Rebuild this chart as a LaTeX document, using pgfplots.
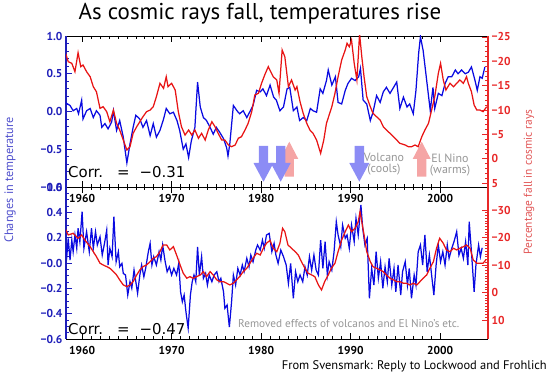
\documentclass[border=0pt]{standalone}
\usepackage{pgfplots}
\pgfplotsset{compat=1.18}
\usepackage{fontspec}
\setmainfont{PT Sans}
\newfontfamily\corrfont{DejaVu Sans}
\definecolor{tblue}{RGB}{10,10,225}
\definecolor{cred}{RGB}{232,20,20}
\definecolor{axblue}{RGB}{30,30,185}
\definecolor{axred}{RGB}{232,40,40}
\definecolor{arrblue}{RGB}{140,140,245}
\definecolor{arrpink}{RGB}{245,165,165}
\definecolor{annogray}{RGB}{150,150,150}
\definecolor{lblblue}{RGB}{80,80,205}
\definecolor{lblred}{RGB}{225,85,85}

\pgfplotstableread{
year T
1958.1 0.12
1958.65 0.08
1959.0 0.01
1959.4 0.04
1959.6 -0.03
1959.95 0.15
1960.1 -0.10
1960.5 0.01
1960.9 0.04
1961.25 -0.08
1961.6 0.01
1962.0 -0.05
1962.2 -0.21
1962.55 -0.16
1962.9 -0.23
1963.3 -0.14
1963.5 0.01
1963.85 -0.25
1964.2 -0.12
1964.6 -0.34
1965.0 -0.68
1965.35 -0.43
1965.7 -0.21
1966.0 -0.05
1966.45 -0.10
1966.8 -0.21
1967.2 -0.12
1967.6 -0.32
1967.95 -0.16
1968.3 -0.34
1968.7 -0.25
1969.1 -0.10
1969.4 0.04
1969.8 -0.03
1970.2 -0.01
1970.6 -0.12
1970.9 -0.25
1971.3 -0.50
1971.6 -0.43
1971.9 -0.61
1972.2 -0.39
1972.6 -0.21
1972.9 0.39
1973.2 0.06
1973.55 -0.08
1973.9 -0.12
1974.3 -0.21
1974.65 -0.30
1975.0 -0.21
1975.4 -0.28
1975.8 -0.36
1976.15 -0.48
1976.3 -0.59
1976.5 -0.43
1976.9 0.08
1977.3 0.01
1977.6 -0.03
1978.0 0.01
1978.4 -0.08
1978.8 0.01
1979.1 0.08
1979.5 0.28
1979.9 0.26
1980.2 0.30
1980.6 0.21
1981.0 0.35
1981.4 0.19
1981.7 0.15
1982.1 0.01
1982.5 0.06
1982.9 0.30
1983.2 0.32
1983.6 0.01
1984.0 0.06
1984.3 -0.12
1984.7 -0.08
1985.1 -0.12
1985.5 0.04
1985.8 0.01
1986.2 -0.01
1986.6 0.30
1986.9 0.24
1987.3 0.41
1987.5 0.55
1987.9 0.35
1988.3 0.46
1988.6 0.12
1989.0 0.10
1989.4 0.28
1989.7 0.37
1990.1 0.44
1990.5 0.41
1990.9 0.46
1991.1 0.57
1991.4 0.15
1991.8 0.10
1992.2 -0.12
1992.5 -0.01
1992.9 0.21
1993.3 0.12
1993.65 0.26
1994.0 0.32
1994.4 0.24
1994.8 0.32
1995.15 0.39
1995.5 0.04
1995.9 0.19
1996.3 0.06
1996.6 0.10
1997.0 -0.03
1997.3 0.28
1997.6 0.77
1997.8 0.99
1998.1 0.81
1998.5 0.41
1998.9 0.01
1999.2 0.32
1999.4 0.04
1999.8 0.24
2000.2 0.21
2000.55 0.37
2000.9 0.46
2001.3 0.46
2001.7 0.55
2002.0 0.50
2002.4 0.55
2002.8 0.50
2003.15 0.52
2003.5 0.59
2003.9 0.41
2004.15 0.28
2004.45 0.46
2004.7 0.44
2005.0 0.59
}\toptemp

\pgfplotstableread{
year C
1958.1 -21.98
1958.45 -19.92
1958.85 -19.59
1959.2 -17.87
1959.55 -21.77
1959.85 -18.9
1960.1 -19.25
1960.5 -17.87
1960.9 -16.84
1961.25 -14.79
1961.6 -13.76
1962.0 -10.35
1962.35 -10.68
1962.75 -9.66
1963.1 -7.6
1963.5 -10.0
1963.85 -7.27
1964.2 -5.9
1964.6 -3.84
1965.0 -1.79
1965.35 -2.47
1965.7 -5.22
1966.1 -6.58
1966.45 -7.6
1966.8 -8.63
1967.2 -9.66
1967.6 -10.0
1967.95 -10.68
1968.3 -12.74
1968.7 -15.49
1969.1 -14.46
1969.4 -16.84
1969.6 -14.79
1970.0 -15.49
1970.4 -14.11
1970.75 -9.66
1971.1 -6.58
1971.5 -4.87
1971.9 -5.9
1972.25 -4.87
1972.6 -5.9
1973.0 -4.2
1973.35 -5.22
1973.75 -3.84
1974.1 -5.9
1974.5 -7.6
1974.85 -6.58
1975.2 -5.22
1975.6 -3.84
1975.95 -3.84
1976.35 -2.82
1976.7 -2.47
1977.1 -2.82
1977.45 -4.2
1977.8 -4.52
1978.2 -5.9
1978.55 -7.27
1978.95 -9.66
1979.3 -13.09
1979.7 -13.43
1980.05 -15.49
1980.4 -17.19
1980.8 -18.9
1981.35 -16.84
1981.75 -16.17
1982.0 -13.43
1982.35 -22.33
1982.65 -20.95
1983.05 -14.79
1983.4 -16.17
1983.8 -14.11
1984.0 -14.79
1984.35 -11.71
1984.7 -9.33
1985.1 -7.27
1985.45 -5.9
1985.8 -5.22
1986.2 -3.84
1986.65 -1.11
1987.0 -3.84
1987.3 -7.27
1987.9 -10.68
1988.25 -13.43
1988.6 -16.84
1989.0 -20.27
1989.4 -22.33
1989.6 -23.7
1989.85 -23.0
1990.1 -24.38
1990.4 -19.59
1990.7 -16.17
1991.0 -25.6
1991.25 -20.95
1991.5 -16.84
1991.8 -12.74
1992.2 -10.68
1992.5 -9.33
1992.9 -8.63
1993.3 -7.95
1993.65 -6.58
1994.0 -5.9
1994.4 -5.22
1994.8 -4.52
1995.15 -3.84
1995.5 -3.17
1996.1 -2.82
1996.45 -2.47
1996.8 -2.47
1997.2 -2.82
1997.55 -2.47
1997.95 -4.52
1998.3 -5.9
1998.7 -7.27
1999.05 -10.0
1999.4 -12.74
1999.8 -17.54
2000.05 -19.59
2000.35 -16.17
2000.65 -14.11
2001.1 -15.49
2001.5 -14.79
2001.85 -15.49
2002.2 -16.17
2002.6 -15.49
2002.95 -16.84
2003.15 -15.49
2003.5 -13.76
2003.8 -11.03
2004.1 -10.0
2004.45 -10.0
2004.8 -9.66
2005.2 -10.68
}\topcr

\pgfplotstableread{
year T
1958.1 0.155
1958.3 0.063
1958.45 0.195
1958.65 0.023
1958.85 0.181
1959.0 0.089
1959.2 0.221
1959.4 0.116
1959.55 0.274
1959.75 0.168
1960.0 0.405
1960.2 0.116
1960.5 0.247
1960.8 0.089
1961.05 0.274
1961.25 0.116
1961.5 0.247
1961.7 0.142
1962.0 0.207
1962.25 0.063
1962.5 0.155
1962.75 0.260
1962.9 -0.016
1963.1 0.116
1963.35 0.050
1963.55 0.365
1963.8 0.010
1964.05 0.089
1964.2 -0.030
1964.45 -0.003
1964.6 -0.082
1964.85 -0.095
1965.1 -0.253
1965.35 -0.148
1965.55 -0.200
1965.8 -0.056
1966.0 -0.148
1966.2 -0.240
1966.45 -0.095
1966.65 -0.016
1966.9 -0.109
1967.1 -0.042
1967.4 0.089
1967.6 0.155
1967.8 -0.016
1968.0 0.050
1968.3 -0.016
1968.6 0.089
1968.8 0.023
1969.0 0.142
1969.25 0.023
1969.5 -0.069
1969.75 -0.030
1970.0 -0.095
1970.25 -0.042
1970.55 -0.095
1970.8 -0.003
1971.0 -0.227
1971.2 -0.306
1971.4 -0.253
1971.6 -0.385
1971.85 -0.514
1972.1 -0.253
1972.3 -0.148
1972.5 -0.095
1972.7 -0.148
1972.9 0.128
1973.1 -0.095
1973.35 0.050
1973.55 -0.121
1973.8 -0.082
1974.0 -0.174
1974.2 -0.095
1974.5 -0.148
1974.75 -0.095
1975.05 -0.069
1975.3 -0.148
1975.5 -0.121
1975.8 -0.227
1975.95 -0.358
1976.2 -0.332
1976.45 -0.506
1976.7 -0.306
1976.9 -0.095
1977.15 -0.174
1977.4 -0.042
1977.65 -0.095
1977.9 -0.016
1978.1 -0.069
1978.4 0.037
1978.65 -0.030
1978.85 0.063
1979.1 0.010
1979.4 0.102
1979.6 0.142
1979.9 0.102
1980.15 0.181
1980.35 0.116
1980.6 0.221
1980.9 0.234
1981.2 0.089
1981.45 0.155
1981.65 0.063
1981.9 -0.003
1982.2 0.102
1982.5 0.050
1982.8 -0.016
1983.05 -0.161
1983.3 -0.003
1983.6 -0.279
1983.85 -0.069
1984.1 -0.148
1984.35 -0.095
1984.65 -0.148
1984.9 -0.030
1985.15 -0.095
1985.4 0.050
1985.65 -0.056
1985.9 0.063
1986.15 -0.056
1986.4 -0.095
1986.65 0.181
1986.9 -0.042
1987.15 0.168
1987.4 -0.095
1987.6 0.010
1987.9 -0.056
1988.15 0.089
1988.4 0.326
1988.6 0.221
1988.9 0.128
1989.1 0.300
1989.4 0.195
1989.6 0.221
1989.85 0.116
1990.1 0.300
1990.4 0.168
1990.6 0.353
1990.85 0.221
1991.15 0.458
1991.35 0.274
1991.6 0.142
1991.85 0.195
1992.1 -0.279
1992.35 -0.042
1992.6 -0.174
1992.85 0.089
1993.1 -0.121
1993.35 0.010
1993.6 -0.200
1993.85 -0.030
1994.1 -0.148
1994.3 0.037
1994.6 -0.174
1994.85 -0.042
1995.05 -0.227
1995.3 -0.016
1995.6 -0.253
1995.8 -0.069
1996.1 0.010
1996.35 -0.174
1996.55 -0.042
1996.8 -0.279
1997.1 -0.095
1997.3 -0.174
1997.55 0.089
1997.8 0.142
1998.05 -0.016
1998.3 0.221
1998.55 -0.069
1998.8 0.063
1999.05 -0.095
1999.3 -0.253
1999.55 -0.016
1999.8 0.142
2000.05 0.010
2000.3 0.089
2000.55 -0.016
2000.8 0.142
2001.0 0.037
2001.3 0.116
2001.55 0.168
2001.85 0.247
2002.1 0.063
2002.35 0.116
2002.6 0.037
2002.85 0.168
2003.1 -0.016
2003.25 0.326
2003.5 0.089
2003.8 -0.227
2004.0 -0.016
2004.3 0.142
2004.5 0.050
2004.7 0.120
}\bottemp

\pgfplotstableread{
year C
1958.1 -23.38
1958.45 -20.95
1959.0 -21.56
1959.55 -19.75
1959.95 -20.95
1960.3 -19.13
1960.9 -16.69
1961.25 -14.87
1961.6 -13.06
1962.0 -10.66
1962.35 -10.04
1962.75 -9.42
1963.1 -8.84
1963.5 -7.6
1963.85 -6.4
1964.2 -4.59
1964.6 -2.77
1965.0 -2.15
1965.35 -2.77
1965.7 -3.97
1966.1 -6.4
1966.45 -8.22
1966.8 -9.42
1967.2 -10.04
1967.6 -11.24
1967.95 -12.48
1968.3 -13.06
1968.7 -14.87
1969.05 -17.31
1969.45 -17.31
1969.8 -15.49
1970.2 -16.69
1970.55 -13.68
1970.95 -10.04
1971.3 -7.02
1971.7 -5.2
1972.05 -5.78
1972.4 -5.2
1972.8 -5.78
1973.2 -6.4
1973.55 -7.6
1973.9 -5.78
1974.3 -7.6
1974.65 -6.4
1975.05 -4.59
1975.4 -3.97
1975.8 -3.97
1976.15 -3.38
1976.5 -2.77
1976.9 -3.38
1977.25 -4.59
1977.6 -5.78
1978.0 -7.6
1978.4 -8.84
1978.75 -10.66
1979.1 -12.48
1979.5 -14.29
1979.9 -13.68
1980.25 -16.11
1980.6 -17.93
1981.0 -19.0
1981.35 -16.11
1981.75 -14.87
1982.1 -17.93
1982.4 -23.38
1982.65 -22.15
1983.0 -17.31
1983.4 -16.11
1983.8 -14.87
1984.15 -13.68
1984.5 -11.24
1984.9 -8.84
1985.25 -7.02
1985.65 -6.4
1986.0 -5.78
1986.4 -2.77
1986.75 -0.95
1987.1 -3.97
1987.5 -6.4
1987.85 -8.84
1988.25 -10.66
1988.6 -14.87
1989.0 -19.13
1989.4 -22.15
1989.75 -24.58
1990.1 -22.15
1990.5 -23.38
1990.85 -25.78
1991.05 -29.42
1991.25 -25.78
1991.5 -20.95
1991.8 -14.87
1992.2 -11.24
1992.5 -9.42
1992.9 -8.84
1993.3 -8.22
1993.65 -7.6
1994.0 -6.4
1994.4 -5.2
1994.8 -4.59
1995.15 -3.97
1995.5 -3.97
1995.9 -3.38
1996.25 -3.38
1996.6 -2.77
1997.0 -3.38
1997.4 -2.77
1997.75 -3.97
1998.1 -5.2
1998.5 -6.4
1998.85 -8.84
1999.25 -11.24
1999.6 -16.11
1999.95 -19.75
2000.35 -17.93
2000.7 -15.49
2001.1 -14.87
2001.5 -16.11
2001.85 -15.49
2002.2 -16.11
2002.6 -16.69
2002.95 -17.31
2003.35 -16.11
2003.7 -11.86
2004.1 -10.66
2004.45 -10.66
2004.8 -10.66
2005.1 -11.86
}\botcr

\pgfplotsset{
  common/.style={
    scale only axis, width=422bp,
    xmin=1958.2, xmax=2005.35,
    xtick={1960,1970,1980,1990,2000},
    minor x tick num=9,
    tick align=inside,
    major tick length=6bp, minor tick length=3bp,
    tick label style={font=\fontsize{11.5}{12}\selectfont\bfseries},
    separate axis lines,
  },
  leftax/.style={
    common,
    axis x line*=box, axis y line*=left,
    x axis line style={black, line width=0.8pt},
    y axis line style={axblue, line width=1.3pt},
    x tick style={black, line width=0.6pt},
    y tick style={axblue, line width=0.8pt},
    yticklabel style={axblue},
    xticklabels={1960,1970,1980,1990,2000},
    xticklabel style={black, yshift=-4bp},
  },
  rightax/.style={
    common,
    axis x line=none, axis y line*=right,
    y dir=reverse,
    y axis line style={axred, line width=1.3pt},
    y tick style={axred, line width=0.8pt},
    yticklabel style={axred},
  },
}

\begin{document}
\begin{tikzpicture}
\useasboundingbox (0,0) rectangle (550bp,373bp);

% ---------- top panel ----------
\begin{axis}[leftax, at={(66bp,186bp)}, anchor=south west, height=151bp,
  ymin=-1, ymax=1, ytick={-1,-0.5,0,0.5,1},
  yticklabels={−1.0,−0.5,0.0,0.5,1.0}, minor y tick num=4]
\addplot[tblue, line width=1.25pt] table[x=year,y=T] {\toptemp};
\end{axis}
\begin{axis}[rightax, at={(66bp,186bp)}, anchor=south west, height=151bp,
  ymin=-25.2, ymax=5.8, ytick={-25,-20,-15,-10,-5,0,5},
  yticklabels={−25,−20,−15,−10,−5,0,5}, minor y tick num=4]
\addplot[cred, line width=1.25pt] table[x=year,y=C] {\topcr};
\end{axis}

% ---------- bottom panel ----------
\begin{axis}[leftax, at={(66bp,34bp)}, anchor=south west, height=152bp,
  ymin=-0.6, ymax=0.6, ytick={-0.6,-0.4,-0.2,0,0.2,0.4,0.6},
  yticklabels={−0.6,−0.4,−0.2,−0.0,0.2,0.4,0.6}, minor y tick num=3]
\addplot[tblue, line width=1.25pt] table[x=year,y=T] {\bottemp};
\end{axis}
\begin{axis}[rightax, at={(66bp,34bp)}, anchor=south west, height=152bp,
  ymin=-38.4, ymax=16.9, ytick={-30,-20,-10,0,10},
  yticklabels={−30,−20,−10,0,10}, minor y tick num=9]
\addplot[cred, line width=1.25pt] table[x=year,y=C] {\botcr};
\end{axis}

% ---------- arrows ----------
\foreach \cx in {289.3,421.7}{
  \fill[arrpink] (\cx bp-4.6bp,196.3bp) -- (\cx bp-4.6bp,214bp) -- (\cx bp-9bp,214bp)
    -- (\cx bp,231.3bp) -- (\cx bp+9bp,214bp) -- (\cx bp+4.6bp,214bp)
    -- (\cx bp+4.6bp,196.3bp) -- cycle;
}
\foreach \cx in {263.5,280.7,359.3}{
  \fill[arrblue] (\cx bp-4.7bp,227bp) -- (\cx bp-4.7bp,210bp) -- (\cx bp-10bp,210bp)
    -- (\cx bp,191.3bp) -- (\cx bp+10bp,210bp) -- (\cx bp+4.7bp,210bp)
    -- (\cx bp+4.7bp,227bp) -- cycle;
}

% ---------- texts ----------
\node[font=\fontsize{23}{25}\selectfont] at (260bp,359bp) {As cosmic rays fall, temperatures rise};
\node[anchor=west, font=\corrfont\fontsize{15}{16}\selectfont, inner sep=0pt] at (68bp,201bp) {Corr.\hspace{14bp}=\hspace{10bp}−0.31};
\node[anchor=west, font=\corrfont\fontsize{15}{16}\selectfont, inner sep=0pt] at (68bp,44bp) {Corr.\hspace{14bp}=\hspace{10bp}−0.47};
\node[annogray, font=\fontsize{12}{11}\selectfont, align=center, inner sep=0pt] at (384bp,208.5bp) {Volcano\\(cools)};
\node[annogray, font=\fontsize{12}{11}\selectfont, align=center, inner sep=0pt] at (450bp,208bp) {El Nino\\(warms)};
\node[annogray, anchor=west, font=\fontsize{11.3}{12}\selectfont, inner sep=0pt] at (238bp,49bp) {Removed effects of volcanos and El Nino’s etc.};
\node[anchor=east, font=\fontsize{12.5}{13}\selectfont, inner sep=0pt] at (547bp,7bp) {From Svensmark: Reply to Lockwood and Frohlich};
\node[lblblue, rotate=90, font=\fontsize{12.3}{13}\selectfont] at (10bp,193bp) {Changes in temperature};
\node[lblred, rotate=90, font=\fontsize{11.5}{12}\selectfont] at (529bp,191bp) {Percentage fall in cosmic rays};
\end{tikzpicture}
\end{document}
